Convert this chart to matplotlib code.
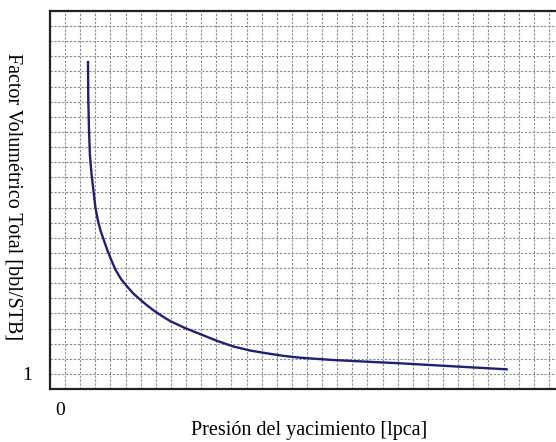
import matplotlib
matplotlib.use("Agg")
import matplotlib.pyplot as plt
import numpy as np

plt.rcParams['font.family'] = ['Liberation Serif', 'DejaVu Serif']

# pressure / total formation volume factor, in grid-cell units
presion = [2.513, 2.533, 2.580, 2.640, 2.740, 3.000, 3.160, 3.330, 3.558,
           3.790, 4.054, 4.345, 4.696, 5.112, 5.542, 5.999, 6.415, 6.878,
           7.407, 7.937, 8.929, 9.921, 11.025, 12.103, 13.228, 14.332,
           15.410, 16.534, 18.717, 20.946, 23.148, 25.132, 27.116, 30.205]
factor_bt = [21.627, 19.114, 17.130, 15.476, 14.286, 12.037, 11.177, 10.516,
             9.855, 9.193, 8.532, 7.870, 7.275, 6.766, 6.283, 5.886, 5.536,
             5.180, 4.828, 4.497, 4.034, 3.638, 3.194, 2.820, 2.546, 2.361,
             2.196, 2.070, 1.918, 1.806, 1.700, 1.587, 1.475, 1.303]

fig = plt.figure(figsize=(5.56, 4.42), dpi=100)
ax = fig.add_axes([50/556, 53/442, 514/556, 378/442])

ax.plot(presion, factor_bt, color='#22206e', lw=1.7, solid_joinstyle='round')

ax.set_xlim(0, 34)
ax.set_ylim(0, 25)
ax.set_xticks(np.arange(0, 35))
ax.set_yticks(np.arange(0, 26))
ax.set_xticklabels([])
ax.set_yticklabels(['1' if i == 1 else '' for i in range(26)], fontsize=14)
ax.tick_params(length=0, pad=13)
ax.grid(True, color='#8a8a8a', lw=0.8, ls=(0, (2, 1.5)))
for s in ax.spines.values():
    s.set_linewidth(1.6)
    s.set_color('#222222')

ax.text(0.66, -1.4, '0', fontsize=14, ha='center', va='center')
fig.text(309/556, 1 - 430/442, 'Presión del yacimiento [lpca]', fontsize=14.5,
         ha='center', va='center')
fig.text(13/556, 1 - 197/442, 'Factor Volumétrico Total [bbl/STB]', fontsize=14.5,
         ha='center', va='center', rotation=270)

fig.savefig('out.png', dpi=100)
